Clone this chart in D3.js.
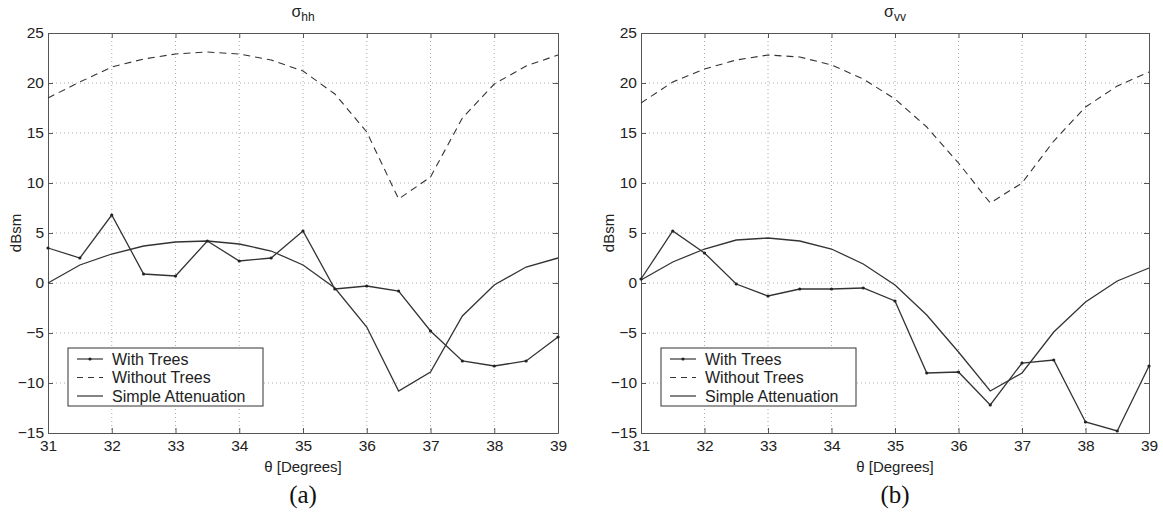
<!DOCTYPE html>
<html>
<head>
<meta charset="utf-8">
<script src="https://cdn.jsdelivr.net/npm/d3@7"></script>
<style>
  body { margin: 0; background: #fff; }
  svg { display: block; }
</style>
</head>
<body>
<svg width="1163" height="516"></svg>
<script>
var svg = d3.select('svg');

// incidence angles (degrees)
var theta = [31, 31.5, 32, 32.5, 33, 33.5, 34, 34.5, 35, 35.5, 36, 36.5, 37, 37.5, 38, 38.5, 39];
var xTicks = [31, 32, 33, 34, 35, 36, 37, 38, 39];
var yTicks = [-15, -10, -5, 0, 5, 10, 15, 20, 25];
var legendNames = ['With Trees', 'Without Trees', 'Simple Attenuation'];

// (a) sigma hh
var hhWithTrees = [3.5, 2.5, 6.8, 0.9, 0.7, 4.2, 2.2, 2.5, 5.2, -0.6, -0.3, -0.8, -4.8, -7.8, -8.3, -7.8, -5.4];
var hhWithoutTrees = [18.5, 20.1, 21.6, 22.4, 22.9, 23.1, 22.9, 22.3, 21.2, 18.9, 15.1, 8.4, 10.6, 16.5, 19.9, 21.7, 22.8];
var hhSimpleAtt = [0, 1.8, 2.9, 3.7, 4.1, 4.2, 3.9, 3.2, 1.8, -0.5, -4.4, -10.8, -8.9, -3.3, -0.2, 1.6, 2.5];

// (b) sigma vv
var vvWithTrees = [0.4, 5.2, 3.0, -0.1, -1.3, -0.6, -0.6, -0.5, -1.8, -9.0, -8.9, -12.2, -8.0, -7.7, -13.9, -14.8, -8.3];
var vvWithoutTrees = [18.0, 20.1, 21.4, 22.3, 22.8, 22.6, 21.8, 20.4, 18.4, 15.6, 12.0, 8.0, 10.0, 14.2, 17.6, 19.7, 21.1];
var vvSimpleAtt = [0.3, 2.1, 3.4, 4.3, 4.5, 4.2, 3.4, 1.9, -0.2, -3.2, -6.9, -10.8, -9.0, -4.9, -1.9, 0.2, 1.5];

var plotTop = 33, plotBottom = 433;
var sans = '"Liberation Sans", Arial, sans-serif';
var serif = '"Liberation Serif", "Times New Roman", serif';

function drawPanel(left, right, sub, caption, withTrees, withoutTrees, simpleAtt) {
  var x = d3.scaleLinear().domain([31, 39]).range([left, right]);
  var y = d3.scaleLinear().domain([-15, 25]).range([plotBottom, plotTop]);
  var g = svg.append('g');

  // dotted grid
  g.selectAll('.vgrid').data(xTicks.slice(1, -1)).enter().append('line')
    .attr('x1', function(d) { return x(d); }).attr('x2', function(d) { return x(d); })
    .attr('y1', plotTop).attr('y2', plotBottom)
    .attr('stroke', '#aaa').attr('stroke-width', 1).attr('stroke-dasharray', '1,3');
  g.selectAll('.hgrid').data(yTicks.slice(1, -1)).enter().append('line')
    .attr('y1', function(d) { return y(d); }).attr('y2', function(d) { return y(d); })
    .attr('x1', left).attr('x2', right)
    .attr('stroke', '#aaa').attr('stroke-width', 1).attr('stroke-dasharray', '1,3');

  // axes, ticks pointing inward like matlab
  var fmt = function(d) { return d < 0 ? '\u2212' + Math.abs(d) : d; };
  var xAxis = g.append('g').attr('transform', 'translate(0,' + plotBottom + ')')
    .call(d3.axisBottom(x).tickValues(xTicks).tickSizeInner(-5).tickSizeOuter(0).tickPadding(7));
  var yAxis = g.append('g').attr('transform', 'translate(' + left + ',0)')
    .call(d3.axisLeft(y).tickValues(yTicks).tickSizeInner(-5).tickSizeOuter(0).tickPadding(4).tickFormat(fmt));
  var xTop = g.append('g').attr('transform', 'translate(0,' + plotTop + ')')
    .call(d3.axisTop(x).tickValues(xTicks).tickSizeInner(-5).tickSizeOuter(0).tickFormat(''));
  var yRight = g.append('g').attr('transform', 'translate(' + right + ',0)')
    .call(d3.axisRight(y).tickValues(yTicks).tickSizeInner(-5).tickSizeOuter(0).tickFormat(''));
  [xAxis, yAxis, xTop, yRight].forEach(function(a) {
    a.select('.domain').attr('stroke', '#555');
    a.selectAll('.tick line').attr('stroke', '#555');
    a.selectAll('text').attr('font-size', 15.5).attr('fill', '#222').attr('font-family', sans);
  });

  var line = d3.line()
    .x(function(d, i) { return x(theta[i]); })
    .y(function(d) { return y(d); });

  g.append('path').datum(withoutTrees).attr('d', line)
    .attr('fill', 'none').attr('stroke', '#333').attr('stroke-width', 1.1).attr('stroke-dasharray', '7,5');
  g.append('path').datum(simpleAtt).attr('d', line)
    .attr('fill', 'none').attr('stroke', '#333').attr('stroke-width', 1.3);
  g.append('path').datum(withTrees).attr('d', line)
    .attr('fill', 'none').attr('stroke', '#333').attr('stroke-width', 1.3);
  g.selectAll('.dot').data(withTrees).enter().append('circle')
    .attr('cx', function(d, i) { return x(theta[i]); })
    .attr('cy', function(d) { return y(d); })
    .attr('r', 1.6).attr('fill', '#222');

  // title sigma with subscript
  var mid = (left + right) / 2;
  var t = g.append('text').attr('x', mid).attr('y', 17).attr('text-anchor', 'middle')
    .attr('font-family', sans).attr('font-size', 16).attr('fill', '#222');
  t.append('tspan').text('\u03c3');
  t.append('tspan').attr('dy', 4).attr('font-size', 12).text(sub);

  g.append('text').attr('x', mid).attr('y', 472).attr('text-anchor', 'middle')
    .attr('font-family', sans).attr('font-size', 15).attr('fill', '#222').text('\u03b8 [Degrees]');
  g.append('text').attr('transform', 'translate(' + (left - 27) + ',' + ((plotTop + plotBottom) / 2) + ') rotate(-90)')
    .attr('text-anchor', 'middle').attr('font-family', sans).attr('font-size', 15).attr('fill', '#222').text('dBsm');
  g.append('text').attr('x', mid).attr('y', 503).attr('text-anchor', 'middle')
    .attr('font-family', serif).attr('font-size', 25).attr('fill', '#111').text(caption);

  // legend
  var lx = left + 20, ly = 348;
  var lg = g.append('g').attr('transform', 'translate(' + lx + ',' + ly + ')');
  lg.append('rect').attr('width', 195).attr('height', 58)
    .attr('fill', '#fff').attr('stroke', '#333').attr('stroke-width', 1);
  legendNames.forEach(function(name, i) {
    var ry = 11 + i * 18.5;
    var l = lg.append('line').attr('x1', 9).attr('x2', 35).attr('y1', ry).attr('y2', ry)
      .attr('stroke', '#333').attr('stroke-width', 1.2);
    if (i == 1) l.attr('stroke-dasharray', '6,5');
    if (i == 0) lg.append('circle').attr('cx', 22).attr('cy', ry).attr('r', 1.6).attr('fill', '#222');
    lg.append('text').attr('x', 44).attr('y', ry + 5.5).attr('font-family', sans)
      .attr('font-size', 16).attr('fill', '#222').text(name);
  });
}

drawPanel(48, 558, 'hh', '(a)', hhWithTrees, hhWithoutTrees, hhSimpleAtt);
drawPanel(641, 1149, 'vv', '(b)', vvWithTrees, vvWithoutTrees, vvSimpleAtt);
</script>
</body>
</html>
